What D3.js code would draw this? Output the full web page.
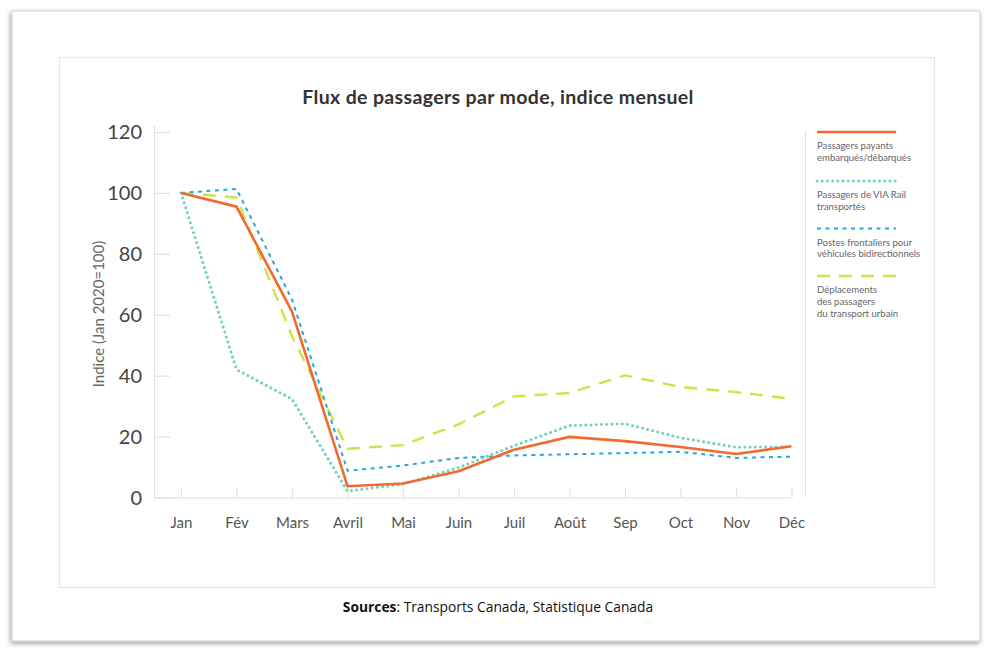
<!DOCTYPE html>
<html><head><meta charset="utf-8">
<script src="https://cdn.jsdelivr.net/npm/d3@7"></script>
<style>
html,body{margin:0;padding:0;background:#fff;}
svg{display:block;}
</style></head>
<body>
<svg id="chart" width="987" height="648"></svg>
<script>
const months = ["Jan","Fév","Mars","Avril","Mai","Juin","Juil","Août","Sep","Oct","Nov","Déc"];
const payants   = [100, 95.5, 61, 3.7, 4.6, 8.6, 15.7, 19.9, 18.5, 16.6, 14.3, 16.8];
const viaRail   = [100, 42, 32.3, 2.1, 4.4, 9.8, 17, 23.6, 24.2, 19.6, 16.5, 16.6];
const frontaliers = [100, 101.3, 65, 8.8, 10.5, 13, 13.8, 14.2, 14.6, 15, 13, 13.4];
const urbain    = [100, 98.5, 53, 16, 17.2, 24, 33.2, 34.3, 40.1, 36.3, 34.6, 32.4];
const yTicks = [0, 20, 40, 60, 80, 100, 120];
const seriesNames = [
  ["Passagers payants","embarqués/débarqués"],
  ["Passagers de VIA Rail","transportés"],
  ["Postes frontaliers pour","véhicules bidirectionnels"],
  ["Déplacements","des passagers","du transport urbain"]
];

const svg = d3.select("#chart");
const defs = svg.append("defs");
const f = defs.append("filter").attr("id","sh").attr("x","-5%").attr("y","-5%").attr("width","110%").attr("height","110%");
f.append("feDropShadow").attr("dx",-1).attr("dy",2).attr("stdDeviation",2.5).attr("flood-color","#000").attr("flood-opacity",0.4);

// outer card
svg.append("rect").attr("x",12).attr("y",11).attr("width",968).attr("height",630)
  .attr("fill","#fff").attr("stroke","#cfcfcf").attr("stroke-width",1).attr("filter","url(#sh)");
// inner box
svg.append("rect").attr("x",59.5).attr("y",57.5).attr("width",875).attr("height",530)
  .attr("fill","#fff").attr("stroke","#e6e6e6").attr("stroke-width",1.2);

const x = d3.scalePoint().domain(months).range([181, 791.5]);
const y = d3.scaleLinear().domain([0,120]).range([497.5, 132]);
const axisLeftX = 154;

// title
svg.append("text").attr("x",498).attr("y",104).attr("text-anchor","middle")
  .attr("font-family","Lato, 'Open Sans', sans-serif").attr("font-weight","bold")
  .attr("font-size",19.5).attr("letter-spacing",0.35).attr("fill","#333").text("Flux de passagers par mode, indice mensuel");

// y axis
const yAxis = d3.axisRight(y).tickValues(yTicks).tickSize(16).tickFormat(d3.format("d"));
const gy = svg.append("g").attr("transform",`translate(${axisLeftX},0)`).call(yAxis);
gy.select(".domain").attr("stroke","#dedede").attr("stroke-width",1.2).attr("d",`M0.5,${y(120)-6}V${y(0)}`);
gy.selectAll(".tick line").attr("stroke","#e2e2e2").attr("stroke-width",1.2);
gy.selectAll(".tick text").attr("x",-12).attr("text-anchor","end").attr("dy","0.34em")
  .attr("font-family","Lato, 'Open Sans', sans-serif").attr("font-size",20).attr("fill","#444");

// x axis
const xAxis = d3.axisTop(x).tickSize(10).tickSizeOuter(0);
const gx = svg.append("g").attr("transform",`translate(0,${y(0)})`).call(xAxis);
gx.select(".domain").attr("stroke","#dedede").attr("stroke-width",1.2).attr("d",`M${axisLeftX},0.5H${x("Déc")+1}`);
gx.selectAll(".tick line").attr("stroke","#e2e2e2").attr("stroke-width",1.2);
gx.selectAll(".tick text").attr("y",30).attr("dy",0)
  .attr("font-family","Lato, 'Open Sans', sans-serif").attr("font-size",15).attr("fill","#555");

// y title
svg.append("text").attr("transform","translate(104,314) rotate(-90)").attr("text-anchor","middle")
  .attr("font-family","Lato, 'Open Sans', sans-serif").attr("font-size",15).attr("fill","#666")
  .text("Indice (Jan 2020=100)");

const styles = [
  {data: payants, color:"#f26a2f", width:2.6, dash:null, cap:"butt"},
  {data: viaRail, color:"#72d0c0", width:3, dash:"0.01,5.2", cap:"round"},
  {data: frontaliers, color:"#2aa5d5", width:2, dash:"4,4.5", cap:"butt"},
  {data: urbain, color:"#cfe246", width:2.4, dash:"13,9", cap:"butt"}
];
const line = d3.line().x((d,i)=>x(months[i])).y(d=>y(d));
[3,2,1,0].forEach(k=>{
  const s = styles[k];
  svg.append("path").datum(s.data).attr("d",line).attr("fill","none")
    .attr("stroke",s.color).attr("stroke-width",s.width)
    .attr("stroke-dasharray",s.dash).attr("stroke-linecap",s.cap).attr("stroke-linejoin","round");
});

// legend
svg.append("line").attr("x1",805.5).attr("x2",805.5).attr("y1",130).attr("y2",y(0))
  .attr("stroke","#e2e2e2").attr("stroke-width",1.2);
const legY = [132, 181, 228.5, 276];
styles.forEach((s,i)=>{
  svg.append("line").attr("x1",817).attr("x2",896).attr("y1",legY[i]).attr("y2",legY[i])
    .attr("stroke",s.color).attr("stroke-width",s.width)
    .attr("stroke-dasharray",s.dash).attr("stroke-linecap",s.cap);
  const t = svg.append("text").attr("font-family","Lato, 'Open Sans', sans-serif")
    .attr("font-size",9.6).attr("fill","#666");
  seriesNames[i].forEach((ln,j)=>{
    t.append("tspan").attr("x",817).attr("y",legY[i]+17+j*11.8).text(ln);
  });
});

// sources
const src = svg.append("text").attr("x",498).attr("y",612).attr("text-anchor","middle")
  .attr("font-family","'Open Sans', 'Noto Sans', sans-serif").attr("font-size",13.8).attr("fill","#111");
src.append("tspan").attr("font-weight","bold").text("Sources");
src.append("tspan").text(": Transports Canada, Statistique Canada");
</script>
</body></html>
